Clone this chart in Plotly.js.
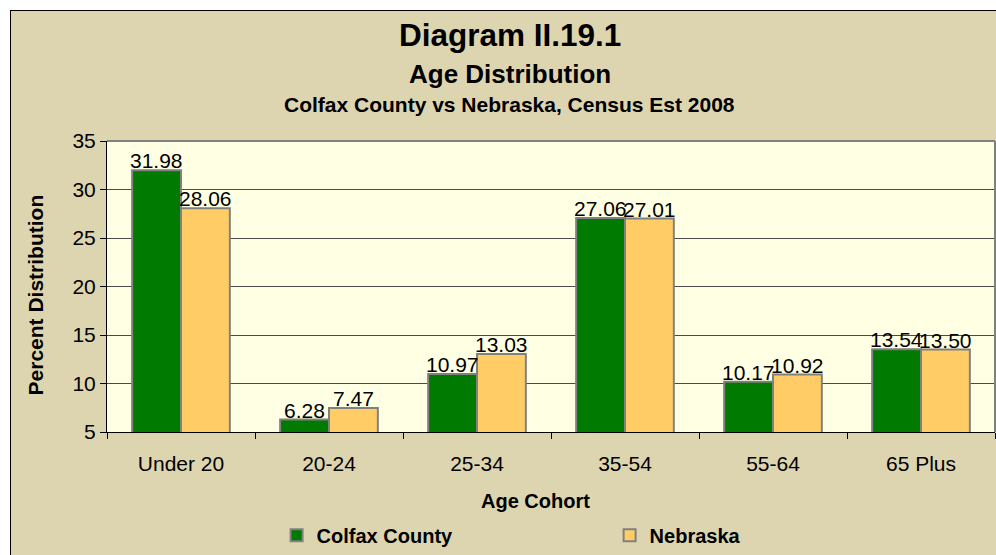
<!DOCTYPE html>
<html>
<head>
<meta charset="utf-8">
<script src="https://cdn.plot.ly/plotly-3.0.1.min.js"></script>
<style>
  html, body { margin: 0; padding: 0; background: #ffffff; overflow: hidden; }
  #wrap { position: relative; width: 996px; height: 555px; }
  #frame { position: absolute; left: 10px; top: 10px; width: 1000px; height: 560px;
           background: #DDD5B0; border: 1px solid #000; box-sizing: border-box; }
  #chart { position: absolute; left: 0; top: 0; width: 996px; height: 555px; }
</style>
</head>
<body>
<div id="wrap">
  <div id="frame"></div>
  <div id="chart"></div>
</div>
<script>
// ---- data ----
const categories = ["Under 20", "20-24", "25-34", "35-54", "55-64", "65 Plus"];
const colfax = [31.98, 6.28, 10.97, 27.06, 10.17, 13.54];
const nebraska = [28.06, 7.47, 13.03, 27.01, 10.92, 13.50];
const seriesNames = ["Colfax County", "Nebraska"];
const yTicks = [5, 10, 15, 20, 25, 30, 35];

const FONT = "Liberation Sans, Arial, sans-serif";
const BARGAP = 0.34;
const CAT_PX = 888 / categories.length;
const BAR_PX = CAT_PX * (1 - BARGAP) / 2;

function barTrace(name, vals, color) {
  return {
    type: "bar",
    name: name,
    x: categories,
    y: vals,
    marker: { color: color, line: { color: "#808080", width: 2 } },
    hoverinfo: "none"
  };
}

const data = [
  barTrace(seriesNames[0], colfax, "#007A00"),
  barTrace(seriesNames[1], nebraska, "#FFCC66")
];

// value labels placed on the data coordinates (category, value)
function labelAnns(vals, sign) {
  return vals.map((v, i) => ({
    x: categories[i], y: v, xref: "x", yref: "y",
    text: v.toFixed(2), showarrow: false,
    xanchor: "center", yanchor: "bottom",
    xshift: sign * BAR_PX / 2, yshift: -4,
    font: { family: FONT, size: 21, color: "#000" }
  }));
}

const layout = {
  width: 996, height: 555,
  margin: { l: 107, r: 1, t: 141, b: 122, pad: 0 },
  paper_bgcolor: "rgba(0,0,0,0)",
  plot_bgcolor: "#FFFFE3",
  font: { family: FONT, color: "#000" },
  barmode: "group",
  bargap: BARGAP,
  bargroupgap: 0,
  showlegend: true,
  legend: {
    orientation: "h",
    x: 0.191, xanchor: "left",
    y: -0.35, yanchor: "middle",
    font: { family: FONT, size: 20, color: "#000", weight: "bold" },
    bgcolor: "rgba(0,0,0,0)",
    entrywidth: 288, entrywidthmode: "pixels",
    traceorder: "normal"
  },
  xaxis: {
    type: "category",
    tickfont: { family: FONT, size: 21, color: "#000" },
    showline: true, linecolor: "#000", linewidth: 1,
    ticks: "outside", tickson: "boundaries", ticklen: 6, tickcolor: "#000",
    ticklabelstandoff: 13,
    showgrid: false, zeroline: false, fixedrange: true
  },
  yaxis: {
    range: [5, 35],
    tickvals: yTicks,
    tickfont: { family: FONT, size: 21, color: "#000" },
    showline: true, linecolor: "#000", linewidth: 1,
    ticks: "outside", ticklen: 6, tickcolor: "#000",
    showgrid: true, gridcolor: "#4a4a4a", gridwidth: 1,
    zeroline: false, fixedrange: true
  },
  shapes: [
    { type: "line", xref: "paper", yref: "paper", x0: 0, x1: 1, y0: 1, y1: 1,
      line: { color: "#808080", width: 2 } },
    { type: "line", xref: "paper", yref: "paper", x0: 1, x1: 1, y0: 0, y1: 1,
      line: { color: "#808080", width: 2 } }
  ],
  annotations: [
    { text: "Diagram II.19.1", xref: "paper", yref: "paper", x: 0.4538, y: 1.363,
      xanchor: "center", yanchor: "middle", showarrow: false,
      font: { family: FONT, size: 31.5, color: "#000", weight: "bold" } },
    { text: "Age Distribution", xref: "paper", yref: "paper", x: 0.4538, y: 1.2295,
      xanchor: "center", yanchor: "middle", showarrow: false,
      font: { family: FONT, size: 26, color: "#000", weight: "bold" } },
    { text: "Colfax County vs Nebraska, Census Est 2008", xref: "paper", yref: "paper",
      x: 0.4538, y: 1.1267, xanchor: "center", yanchor: "middle", showarrow: false,
      font: { family: FONT, size: 21, color: "#000", weight: "bold" } },
    { text: "Age Cohort", xref: "paper", yref: "paper", x: 0.483, y: -0.236,
      xanchor: "center", yanchor: "middle", showarrow: false,
      font: { family: FONT, size: 20, color: "#000", weight: "bold" } },
    { text: "Percent Distribution", xref: "paper", yref: "paper", x: -0.0811, y: 0.4726,
      xanchor: "center", yanchor: "middle", showarrow: false, textangle: -90,
      font: { family: FONT, size: 21, color: "#000", weight: "bold" } }
  ].concat(labelAnns(colfax, -1), labelAnns(nebraska, 1))
};

Plotly.newPlot("chart", data, layout, { displayModeBar: false, staticPlot: true });
</script>
</body>
</html>
